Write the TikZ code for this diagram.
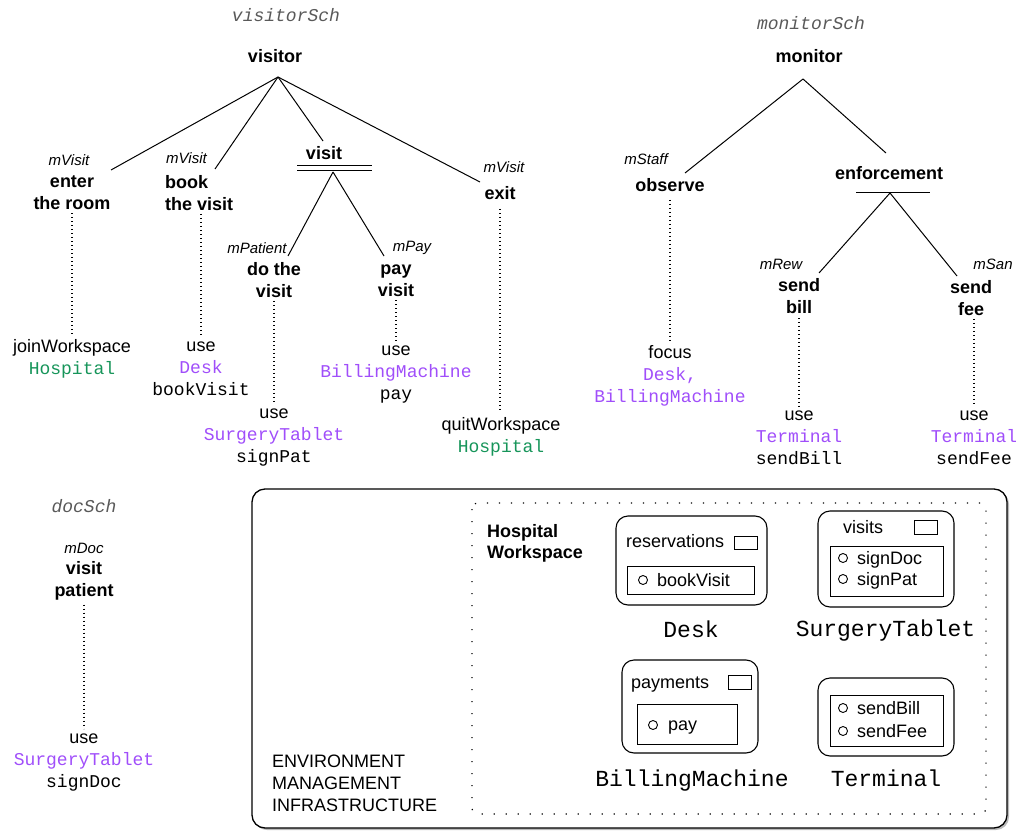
\documentclass[tikz,border=0pt]{standalone}
\usepackage{fontspec}
\setmainfont{Liberation Sans}
\setmonofont{Liberation Mono}
\usetikzlibrary{shadows}
\definecolor{artpurple}{HTML}{A04EFA}
\definecolor{wspgreen}{HTML}{17955A}
\begin{document}
\begin{tikzpicture}[x=1pt,y=-1pt,
  txt/.style={inner sep=0pt, font=\fontsize{18}{22}\selectfont, align=center},
  goal/.style={inner sep=0pt, font=\fontsize{18}{22}\selectfont\bfseries, align=center},
  role/.style={inner sep=0pt, font=\fontsize{15}{18}\selectfont\itshape},
  sch/.style={inner sep=0pt, font=\fontsize{18}{22}\selectfont\ttfamily\itshape, text=black!65},
  artlabel/.style={inner sep=0pt, font=\fontsize{23}{26}\selectfont\ttfamily, anchor=base},
  boxtxt/.style={inner sep=0pt, font=\fontsize{18}{22}\selectfont, anchor=base west},
  edge/.style={line width=1pt},
  dots/.style={line width=1.1pt, dash pattern=on 1pt off 3pt},
  wsdots/.style={line width=1.2pt, dash pattern=on 1.2pt off 10.8pt, rounded corners=6pt},
  artbox/.style={line width=1.1pt, rounded corners=12pt},
  plain/.style={line width=1pt},
  opc/.style={line width=0.9pt}
]
\useasboundingbox (0,0) rectangle (1016,834);

% ---------------- visitor scheme ----------------
\node[sch] (visitorSch) at (286,15) {visitorSch};
\node[goal] (visitor) at (275,56) {visitor};
\coordinate (vA) at (278,77);

\node[role] (rEnter) at (69,160) {mVisit};
\node[goal] (enter) at (72,193) {enter\\the room};
\coordinate (enterT) at (111,170);

\node[role, anchor=west] (rBook) at (166,158) {mVisit};
\node[goal, anchor=west, align=left] (book) at (165,193) {book\\the visit};
\coordinate (bookT) at (215,169);

\node[goal] (visit) at (324,153) {visit};
\coordinate (visitT) at (323,141);
\coordinate (visitB) at (333,172);
\coordinate (vdL) at (297,166); \coordinate (vdR) at (372,166);
\coordinate (vdL2) at (297,171); \coordinate (vdR2) at (372,171);

\node[role] (rExit) at (504,167) {mVisit};
\node[goal] (exit) at (500,193) {exit};
\coordinate (exitT) at (480,182);

\node[role] (rDo) at (257,248) {mPatient};
\node[goal] (dovisit) at (274,280) {do the\\visit};
\coordinate (doT) at (288,256);

\node[role] (rPay) at (412,248) {mPay};
\node[goal] (payvisit) at (396,281) {pay\\visit};
\coordinate (payT) at (384,256);

\draw[edge] (vA) -- (enterT);
\draw[edge] (vA) -- (bookT);
\draw[edge] (vA) -- (visitT);
\draw[edge] (vA) -- (exitT);
\draw[edge] (vdL) -- (vdR);
\draw[edge] (vdL2) -- (vdR2);
\draw[edge] (visitB) -- (doT);
\draw[edge] (visitB) -- (payT);

\node[txt] (opJoin) at (72,358.5) {joinWorkspace\\{\ttfamily\color{wspgreen}Hospital}};
\node[txt] (opBook) at (201,368.5) {use\\{\ttfamily\color{artpurple}Desk}\\{\ttfamily bookVisit}};
\node[txt] (opDo) at (274,437.5) {use\\{\ttfamily\color{artpurple}SurgeryTablet}\\{\ttfamily signPat}};
\node[txt] (opPay) at (396,374.5) {use\\{\ttfamily\color{artpurple}BillingMachine}\\{\ttfamily pay}};
\node[txt] (opQuit) at (501,437) {quitWorkspace\\{\ttfamily\color{wspgreen}Hospital}};

\draw[dots] ([yshift=-3pt]enter.south) -- ([yshift=5pt]enter.south |- opJoin.north);
\draw[dots] ([yshift=-3pt]opBook.north |- book.south) -- ([yshift=4pt]opBook.north);
\draw[dots] ([yshift=-3pt]dovisit.south) -- ([yshift=5pt]dovisit.south |- opDo.north);
\draw[dots] ([yshift=-3pt]payvisit.south) -- ([yshift=4pt]payvisit.south |- opPay.north);
\draw[dots] ([yshift=-9pt]exit.south) -- ([yshift=5pt]exit.south |- opQuit.north);

% ---------------- monitor scheme ----------------
\node[sch] (monitorSch) at (811,23) {monitorSch};
\node[goal] (monitor) at (809,56) {monitor};
\coordinate (mA) at (803,79);

\node[role] (rObs) at (646,159) {mStaff};
\node[goal] (observe) at (670,185) {observe};
\coordinate (obsT) at (685,173);

\node[goal] (enforcement) at (889,173) {enforcement};
\coordinate (enfT) at (886,153);
\coordinate (enfB) at (890,193);
\coordinate (enfL) at (856,193); \coordinate (enfR) at (930,193);

\node[role] (rRew) at (781,264) {mRew};
\node[goal] (sendbill) at (799,296) {send\\bill};
\coordinate (billT) at (819,273);

\node[role] (rSan) at (993,264) {mSan};
\node[goal] (sendfee) at (971,298) {send\\fee};
\coordinate (feeT) at (957,276);

\draw[edge] (mA) -- (obsT);
\draw[edge] (mA) -- (enfT);
\draw[edge] (enfL) -- (enfR);
\draw[edge] (enfB) -- (billT);
\draw[edge] (enfB) -- (feeT);

\node[txt] (opFocus) at (670,375.5) {focus\\{\ttfamily\color{artpurple}Desk,}\\{\ttfamily\color{artpurple}BillingMachine}};
\node[txt] (opBill) at (799,437.5) {use\\{\ttfamily\color{artpurple}Terminal}\\{\ttfamily sendBill}};
\node[txt] (opFee) at (974,437.5) {use\\{\ttfamily\color{artpurple}Terminal}\\{\ttfamily sendFee}};

\draw[dots] ([yshift=-8pt]observe.south -| opFocus.north) -- ([yshift=5pt]opFocus.north);
\draw[dots] ([yshift=-4pt]sendbill.south) -- ([yshift=4pt]sendbill.south |- opBill.north);
\draw[dots] ([yshift=-3pt]opFee.north |- sendfee.south) -- ([yshift=4pt]opFee.north);

% ---------------- doc scheme ----------------
\node[sch] (docSch) at (84,506) {docSch};
\node[role] (rDoc) at (84,548) {mDoc};
\node[goal] (visitpatient) at (84,581) {visit\\patient};
\node[txt] (opDoc) at (84,762.5) {use\\{\ttfamily\color{artpurple}SurgeryTablet}\\{\ttfamily signDoc}};
\draw[dots] ([yshift=-4pt]visitpatient.south) -- ([yshift=5pt]visitpatient.south |- opDoc.north);

% ---------------- environment ----------------
\draw[line width=1.3pt, rounded corners=13pt, fill=white,
      drop shadow={shadow xshift=2pt, shadow yshift=-2pt, opacity=0.45, fill=black!60}]
  (252,489) rectangle (1007,828);
\node[txt, anchor=west, align=left] (emi) at (272,783) {ENVIRONMENT\\MANAGEMENT\\INFRASTRUCTURE};
\draw[wsdots] (472,503) rectangle (986,814);
\node[goal, anchor=west, align=left, font=\fontsize{18}{21}\selectfont\bfseries] (hw) at (487,543) {Hospital\\Workspace};

% Desk
\draw[artbox] (616,516) rectangle (767,605);
\node[boxtxt] (deskObs) at (626,547.5) {reservations};
\draw[plain] (734,536) rectangle (757,549);
\draw[plain] (627,566) rectangle (754,594);
\draw[opc] (643,580) circle (4.5pt);
\node[boxtxt] (deskOp) at (657,586.5) {bookVisit};
\node[artlabel] (deskLbl) at (691,637.5) {Desk};

% SurgeryTablet
\draw[artbox] (818,511) rectangle (954,607);
\node[boxtxt] (stObs) at (843,533.5) {visits};
\draw[plain] (914,520) rectangle (937,534);
\draw[plain] (830,546) rectangle (943,596);
\draw[opc] (843,558) circle (4.5pt);
\draw[opc] (843,579) circle (4.5pt);
\node[boxtxt] (stOp1) at (857,564.5) {signDoc};
\node[boxtxt] (stOp2) at (857,585.5) {signPat};
\node[artlabel] (stLbl) at (885.5,636.5) {SurgeryTablet};

% BillingMachine
\draw[artbox] (622,660) rectangle (758,753);
\node[boxtxt] (bmObs) at (631,688.5) {payments};
\draw[plain] (728,675) rectangle (751,689);
\draw[plain] (637,704) rectangle (737,744);
\draw[opc] (653,725) circle (4.5pt);
\node[boxtxt] (bmOp) at (668,730.5) {pay};
\node[artlabel] (bmLbl) at (692,786.5) {BillingMachine};

% Terminal
\draw[artbox] (818,678) rectangle (954,756);
\draw[plain] (830,695) rectangle (943,746);
\draw[opc] (843,708) circle (4.5pt);
\draw[opc] (843,731) circle (4.5pt);
\node[boxtxt] (tOp1) at (857,714.5) {sendBill};
\node[boxtxt] (tOp2) at (857,737.5) {sendFee};
\node[artlabel] (tLbl) at (886,786.5) {Terminal};
\end{tikzpicture}
\end{document}
